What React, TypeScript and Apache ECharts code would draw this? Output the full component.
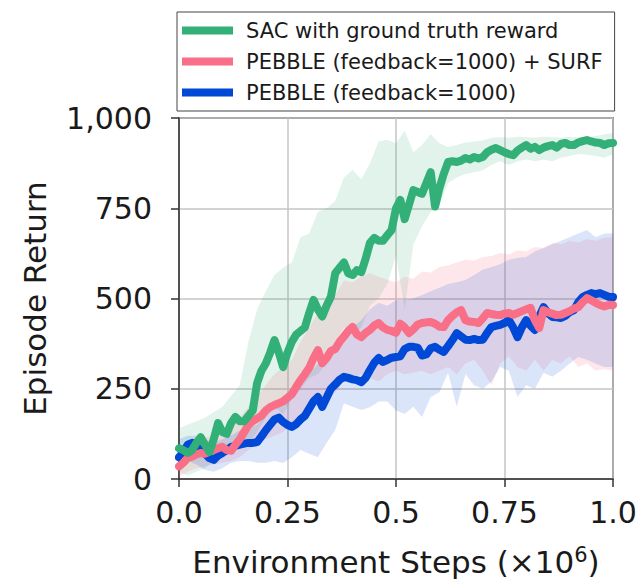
import React, { useEffect, useRef } from "react";
import * as echarts from "echarts";

// Mean curves, sampled every 0.01 x 10^6 environment steps (101 points)
const SAC_MEAN = [85,80,72,80,100,116,95,75,110,155,130,125,155,172,160,160,175,190,266,300,320,350,385,350,310,350,380,400,410,420,460,496,470,450,480,505,570,585,600,570,565,579,573,610,654,668,660,660,675,690,750,773,720,760,800,795,790,820,850,755,805,845,878,880,878,882,889,885,892,888,892,905,912,917,911,905,900,897,910,918,925,915,920,911,918,922,925,918,928,931,925,925,932,936,939,935,932,931,925,930,931];
const SURF_MEAN = [35,45,58,62,68,72,70,76,80,85,89,80,78,95,110,130,150,160,168,175,190,199,205,210,215,225,235,255,274,290,308,335,357,321,335,355,360,380,395,410,421,400,393,405,413,425,432,420,413,410,405,430,420,404,415,428,432,434,435,430,422,421,440,452,462,468,440,436,435,432,445,460,457,455,454,458,460,455,460,465,470,474,440,418,468,462,458,454,455,460,465,472,476,490,501,495,488,482,478,482,482];
const PEBBLE_MEAN = [60,75,95,100,90,80,70,58,53,65,72,80,89,92,95,98,100,100,102,118,135,150,165,170,158,150,144,152,165,175,195,215,227,200,225,250,262,275,283,280,276,274,268,280,302,322,335,324,330,336,338,340,360,366,366,364,342,345,362,366,358,352,368,385,404,395,386,385,388,385,386,405,421,424,427,432,440,420,393,420,440,425,413,450,476,460,449,448,446,452,462,468,490,504,510,515,512,515,510,505,504];

// Spread bands, sampled every 0.02 x 10^6 steps (51 points)
const SAC_UPPER = [140,150,160,170,185,200,230,260,380,470,520,565,585,600,670,680,740,750,770,835,856,830,875,935,940,930,965,905,925,955,930,920,925,932,935,938,945,947,945,948,947,945,948,947,945,948,947,946,950,955,958];
const SAC_LOWER = [20,10,20,30,50,60,80,90,100,130,170,200,180,220,250,280,290,320,380,420,400,420,480,500,540,620,470,650,700,740,760,820,835,845,850,855,870,880,870,880,885,880,885,880,890,895,900,898,895,890,900];
const SURF_UPPER = [80,100,110,115,120,130,140,170,200,230,260,290,310,330,380,420,460,470,510,550,545,560,570,560,552,545,560,555,575,572,587,592,600,607,605,615,618,626,622,634,630,643,640,654,650,660,655,665,660,668,670];
const SURF_LOWER = [5,20,30,35,40,45,50,60,80,100,110,120,130,150,170,190,210,220,240,270,280,290,280,270,290,300,290,295,300,290,300,310,290,320,330,300,260,320,340,310,300,330,300,330,320,340,310,320,300,305,300];
const PEBBLE_UPPER = [110,120,120,110,100,110,120,135,140,150,180,210,230,240,255,290,320,330,370,400,420,440,470,488,480,495,496,500,510,520,530,540,545,551,565,580,587,595,607,612,615,630,640,650,660,670,680,690,670,680,681];
const PEBBLE_LOWER = [40,50,40,25,20,30,45,50,50,45,45,50,44,60,80,70,60,100,136,210,200,191,199,215,215,190,180,200,172,227,240,294,200,290,260,250,270,310,300,227,260,250,294,283,300,320,338,330,320,310,310];

const Y_TICKS = [0, 250, 500, 750, 1000];
const X_TICKS = [0, 0.25, 0.5, 0.75, 1.0];

const NAMES = [
  "SAC with ground truth reward",
  "PEBBLE (feedback=1000) + SURF",
  "PEBBLE (feedback=1000)",
];
const COLORS = ["#33b077", "#f96f88", "#0049d6"];

const FONT = "DejaVu Sans";

function toPairs(values: number[], step: number) {
  return values.map((v, i) => [Number((i * step).toFixed(4)), v]);
}

function bandSeries(upper: number[], lower: number[], color: string, opacity: number, z: number) {
  const up = toPairs(upper, 0.02);
  const lo = toPairs(lower, 0.02);
  return {
    type: "custom",
    silent: true,
    z,
    clip: true,
    data: [[0, 0]],
    encode: { x: 0, y: 1 },
    renderItem: (params: any, api: any) => {
      const pts: number[][] = [];
      up.forEach((p) => pts.push(api.coord(p)));
      for (let i = lo.length - 1; i >= 0; i--) pts.push(api.coord(lo[i]));
      return {
        type: "polygon",
        shape: { points: pts },
        style: { fill: color, opacity },
      };
    },
  };
}

function lineSeries(name: string, values: number[], color: string, z: number) {
  return {
    name,
    type: "line",
    data: toPairs(values, 0.01),
    showSymbol: false,
    symbol: "none",
    z,
    lineStyle: { color, width: 8, join: "round", cap: "round" },
    itemStyle: { color },
  };
}

export default function App() {
  const ref = useRef<HTMLDivElement>(null);
  useEffect(() => {
    document.body.style.margin = "0";
    if (!ref.current) return;
    const chart = echarts.init(ref.current, undefined, { renderer: "svg" });
    chart.setOption({
      animation: false,
      backgroundColor: "#ffffff",
      textStyle: { fontFamily: FONT },
      legend: {
        data: NAMES.map((n, i) => ({ name: n, itemStyle: { color: COLORS[i] } })),
        orient: "vertical",
        left: 177,
        top: 12,
        icon: "rect",
        itemWidth: 51,
        itemHeight: 8,
        itemGap: 10,
        padding: [8, 12, 8, 5],
        borderColor: "#444444",
        borderWidth: 1,
        borderRadius: 0,
        backgroundColor: "#ffffff",
        textStyle: {
          fontFamily: FONT,
          fontSize: 21,
          color: "#1a1a1a",
          padding: [0, 0, 0, 8],
        },
      },
      grid: {
        left: 179,
        top: 118,
        width: 434,
        height: 361,
        show: true,
        containLabel: false,
        outerBoundsMode: "none",
        borderColor: "#333333",
        borderWidth: 1.5,
        backgroundColor: "transparent",
      },
      xAxis: {
        type: "value",
        min: 0,
        max: 1,
        interval: 0.25,
        name: "Environment Steps (×10{sup|6})",
        nameLocation: "middle",
        nameGap: 65,
        nameTextStyle: {
          fontFamily: FONT,
          fontSize: 31,
          lineHeight: 36,
          color: "#1a1a1a",
          rich: {
            sup: { fontFamily: FONT, fontSize: 21, lineHeight: 14, verticalAlign: "top", color: "#1a1a1a" },
          },
        },
        axisLine: { show: true, lineStyle: { color: "#333333", width: 1.5 } },
        axisTick: { show: true, length: 8, lineStyle: { color: "#333333", width: 1.5 } },
        axisLabel: {
          fontFamily: FONT,
          fontSize: 30,
          color: "#1a1a1a",
          margin: 18,
          formatter: (v: number) => (X_TICKS.includes(v) ? (v === 0 ? "0.0" : v === 1 ? "1.0" : String(v)) : ""),
        },
        splitLine: { show: true, lineStyle: { color: "#c4c4c4", width: 1.5 } },
      },
      yAxis: {
        type: "value",
        min: 0,
        max: 1000,
        interval: 250,
        name: "Episode Return",
        nameLocation: "middle",
        nameGap: 129,
        nameRotate: 90,
        nameTextStyle: { fontFamily: FONT, fontSize: 31, color: "#1a1a1a" },
        axisLine: { show: true, lineStyle: { color: "#333333", width: 1.5 } },
        axisTick: { show: true, length: 8, lineStyle: { color: "#333333", width: 1.5 } },
        axisLabel: {
          fontFamily: FONT,
          fontSize: 30,
          color: "#1a1a1a",
          margin: 27,
          formatter: (v: number) => (Y_TICKS.includes(v) ? v.toLocaleString("en-US") : ""),
        },
        splitLine: { show: true, lineStyle: { color: "#c4c4c4", width: 1.5 } },
      },
      series: [
        bandSeries(SAC_UPPER, SAC_LOWER, COLORS[0], 0.15, 1),
        bandSeries(SURF_UPPER, SURF_LOWER, COLORS[1], 0.17, 1),
        bandSeries(PEBBLE_UPPER, PEBBLE_LOWER, COLORS[2], 0.14, 1),
        lineSeries(NAMES[0], SAC_MEAN, COLORS[0], 5),
        lineSeries(NAMES[1], SURF_MEAN, COLORS[1], 4),
        lineSeries(NAMES[2], PEBBLE_MEAN, COLORS[2], 3),
      ],
    });
    return () => chart.dispose();
  }, []);
  return <div ref={ref} style={{ width: 641, height: 580 }} />;
}
